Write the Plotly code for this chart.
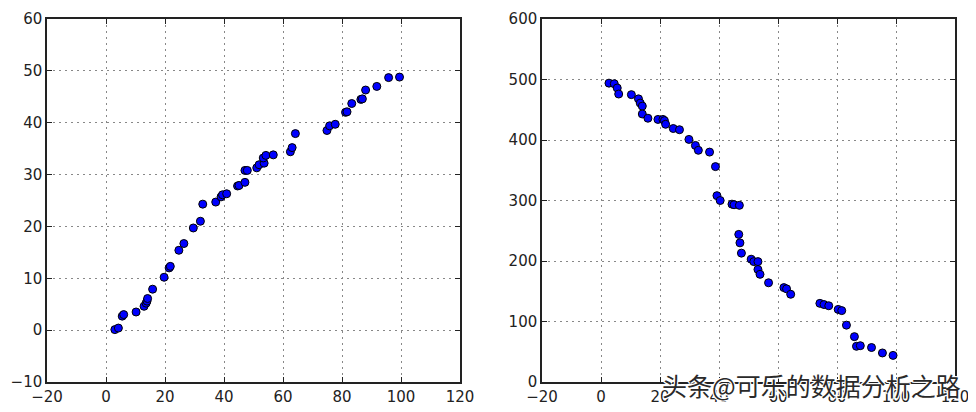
import plotly.graph_objects as go

# Left panel data
x1 = [3.0, 4.2, 5.5, 6.0, 10.2, 12.9, 13.6, 13.9, 14.1, 15.8, 19.7, 21.4, 21.8, 24.7,
      26.4, 29.6, 32.0, 32.8, 37.2, 39.0, 39.5, 40.9, 44.6, 45.1, 47.1, 47.1, 47.9,
      51.1, 51.9, 53.6, 53.3, 54.2, 56.7, 62.5, 63.1, 64.2, 74.9, 75.8, 77.7, 81.2,
      81.7, 83.3, 86.4, 86.9, 88.0, 91.8, 95.8, 99.5]
y1 = [0.1, 0.4, 2.7, 3.0, 3.5, 4.6, 5.2, 5.6, 6.1, 7.9, 10.2, 12.0, 12.3, 15.4,
      16.7, 19.7, 21.0, 24.3, 24.7, 25.7, 26.1, 26.3, 27.8, 27.9, 28.5, 30.8, 30.8,
      31.3, 31.9, 32.2, 33.2, 33.7, 33.8, 34.4, 35.2, 37.9, 38.5, 39.4, 39.7, 42.0,
      42.1, 43.7, 44.5, 44.6, 46.3, 47.0, 48.7, 48.8]

# Right panel data
x2 = [2.7, 4.5, 5.5, 6.0, 10.3, 12.7, 13.3, 14.0, 14.0, 15.9, 19.3, 21.0, 21.5, 21.9,
      24.5, 26.6, 29.8, 32.0, 33.0, 36.8, 38.8, 39.3, 40.4, 44.4, 45.1, 46.9, 46.7,
      47.1, 47.6, 50.9, 51.8, 53.2, 53.2, 53.9, 56.8, 62.0, 62.9, 64.3, 74.2, 75.6,
      77.2, 80.4, 81.6, 83.2, 85.9, 86.6, 87.9, 91.7, 95.4, 99.0]
y2 = [494, 493, 486, 476, 475, 468, 461, 456, 443, 436, 434, 434, 432, 426,
      419, 417, 401, 391, 383, 380, 356, 308, 300, 294, 293, 292, 244,
      230, 213, 203, 199, 199, 186, 178, 164, 156, 154, 145, 130, 128,
      126, 120, 118, 94, 75, 59, 60, 57, 48, 44]

watermark = "头条@可乐的数据分析之路"

W, H = 976, 412
OFF = 8  # default page body margin in the browser
fig = go.Figure()
marker = dict(color="#0000ff", size=8, line=dict(color="black", width=1))
fig.add_trace(go.Scatter(x=x1, y=y1, mode="markers", marker=marker, xaxis="x", yaxis="y"))
fig.add_trace(go.Scatter(x=x2, y=y2, mode="markers", marker=marker, xaxis="x2", yaxis="y2"))

tickfont = dict(family="DejaVu Sans", size=15, color="#222")
common = dict(showline=True, linecolor="#222", linewidth=1.5, mirror="ticks",
              ticks="inside", ticklen=5, tickwidth=1, tickcolor="#222",
              showgrid=True, gridcolor="#888", gridwidth=1, griddash="2px,4px",
              zeroline=False, tickfont=tickfont, fixedrange=True, automargin=False)


def xdom(a, b):
    return [(a - OFF) / W, (b - OFF) / W]


yd = [(H - (382 - OFF)) / H, (H - (19 - OFF)) / H]
fig.update_layout(
    width=W, height=H,
    margin=dict(l=0, r=0, t=0, b=0),
    paper_bgcolor="white", plot_bgcolor="white",
    showlegend=False,
    xaxis=dict(domain=xdom(47, 460), range=[-20, 120], dtick=20, anchor="y", **common),
    yaxis=dict(domain=yd, range=[-10, 60], dtick=10, anchor="x", **common),
    xaxis2=dict(domain=xdom(542, 955), range=[-20, 120], dtick=20, anchor="y2", **common),
    yaxis2=dict(domain=yd, range=[0, 600], dtick=100, anchor="x2", **common),
    annotations=[dict(
        text=watermark, xref="paper", yref="paper",
        x=(811 - OFF) / W, y=(H - (385 - OFF)) / H,
        xanchor="center", yanchor="middle", showarrow=False,
        font=dict(family="Noto Sans CJK SC", size=25, color="#2a2a2a",
                  shadow="1px 1px 0 #fff, -1px -1px 0 #fff, 1px -1px 0 #fff, -1px 1px 0 #fff"),
    )],
)
fig.write_html("out.html")
